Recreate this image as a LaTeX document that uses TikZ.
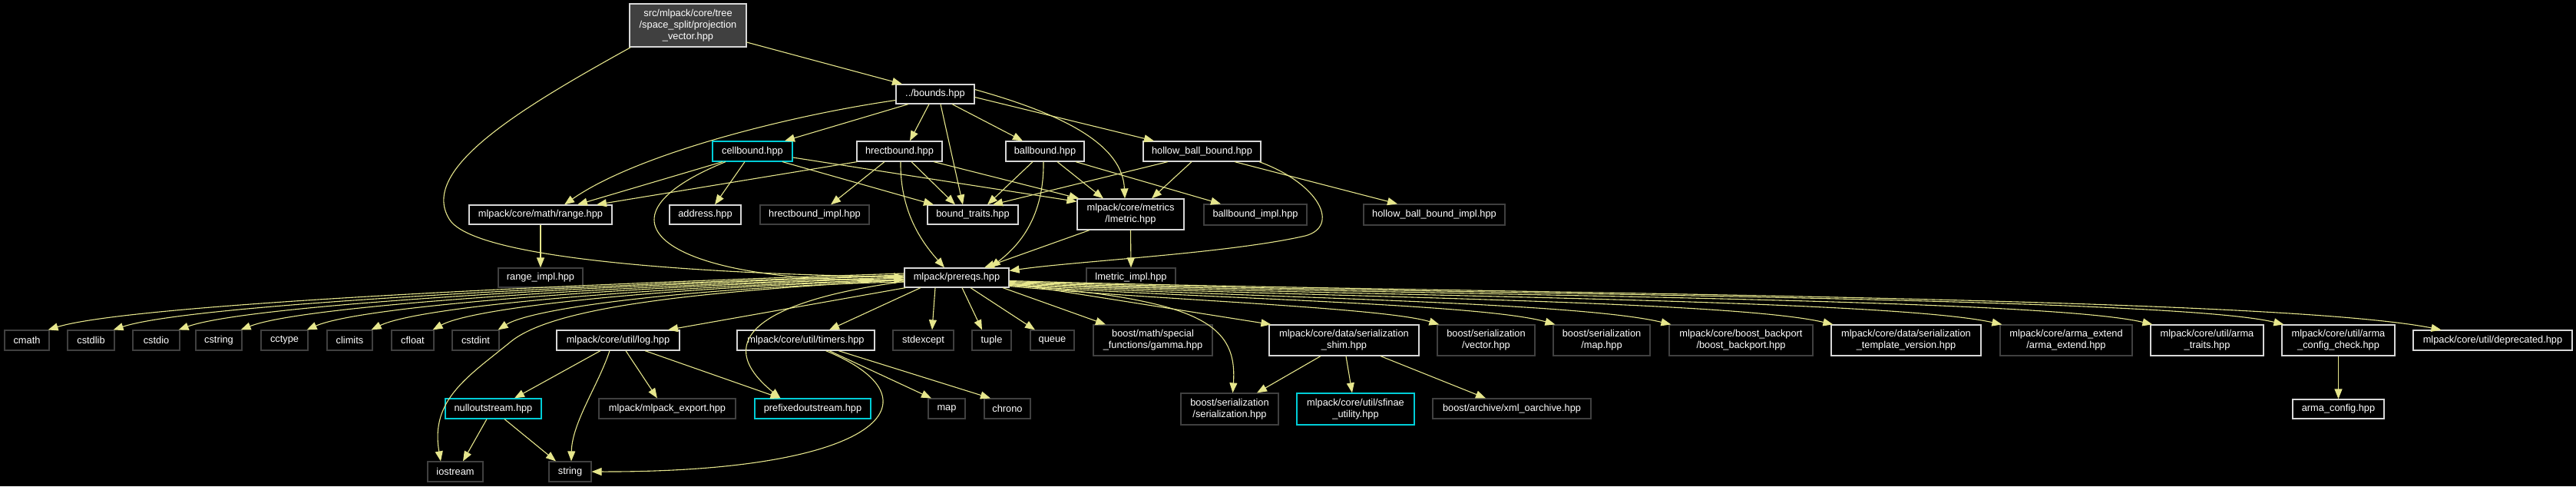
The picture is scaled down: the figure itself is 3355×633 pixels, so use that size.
\documentclass[tikz,border=0pt]{standalone}
\usepackage{fontspec}
\setmainfont{Liberation Sans}
\usetikzlibrary{arrows.meta}
\definecolor{edgecol}{RGB}{230,230,140}
\definecolor{lgray}{RGB}{215,215,215}
\definecolor{dgray}{RGB}{64,64,64}
\definecolor{cyanb}{RGB}{0,205,215}
\definecolor{rootgray}{RGB}{64,64,64}
\newcommand\dxfont{\fontsize{12.8}{15}\selectfont}
\tikzset{
  nd/.style={rectangle, fill=black, text=white, line width=1.2pt, inner sep=0pt, font=\dxfont, align=center, minimum height=26pt},
  doc/.style={nd, draw=lgray},
  ext/.style={nd, draw=dgray},
  cyn/.style={nd, draw=cyanb},
  two/.style={minimum height=40pt},
  rootnode/.style={nd, fill=rootgray, draw=lgray, minimum height=56pt},
  edge/.style={draw=edgecol, line width=1.1pt, -{Triangle[length=13pt,width=10pt]}}
}
\begin{document}
\begin{tikzpicture}[x=1pt,y=-1pt]
\fill[black] (0,0) rectangle (3355,633);
\useasboundingbox (0,0) rectangle (3355,633);

% row 0-1
\node[rootnode, minimum width=152pt] (root) at (896,33) {src/mlpack/core/tree\\/space\_split/projection\\\_vector.hpp};
\node[doc, minimum width=102pt, minimum height=25pt] (bounds) at (1218,122.5) {../bounds.hpp};
% row 2
\node[cyn, minimum width=104pt] (cellbound) at (980,197) {cellbound.hpp};
\node[doc, minimum width=111pt] (hrect) at (1171.5,197) {hrectbound.hpp};
\node[doc, minimum width=102pt] (ball) at (1361,197) {ballbound.hpp};
\node[doc, minimum width=153pt] (hollow) at (1565.5,197) {hollow\_ball\_bound.hpp};
% row 3
\node[doc, minimum width=186pt, minimum height=25pt] (range) at (704,279.5) {mlpack/core/math/range.hpp};
\node[doc, minimum width=93pt, minimum height=25pt] (address) at (918.5,279.5) {address.hpp};
\node[ext, minimum width=142pt, minimum height=25pt] (hrectimpl) at (1061,279.5) {hrectbound\_impl.hpp};
\node[doc, minimum width=118pt, minimum height=25pt] (btraits) at (1267,279.5) {bound\_traits.hpp};
\node[doc, two, minimum width=139pt] (lmetric) at (1472.5,279) {mlpack/core/metrics\\/lmetric.hpp};
\node[ext, minimum width=134pt, minimum height=27pt] (ballimpl) at (1635,279.5) {ballbound\_impl.hpp};
\node[ext, minimum width=184pt, minimum height=27pt] (hollowimpl) at (1868,279.5) {hollow\_ball\_bound\_impl.hpp};
% row 3b
\node[ext, minimum width=110pt, minimum height=25pt] (rangeimpl) at (704,361.5) {range\_impl.hpp};
\node[doc, minimum width=136pt, minimum height=25pt] (prereqs) at (1246,361.5) {mlpack/prereqs.hpp};
\node[ext, minimum width=116pt, minimum height=25pt] (lmetricimpl) at (1473,361.5) {lmetric\_impl.hpp};
% row 4
\node[ext, minimum width=58pt] (cmath) at (35,443) {cmath};
\node[ext, minimum width=61pt] (cstdlib) at (118.5,443) {cstdlib};
\node[ext, minimum width=61pt] (cstdio) at (203.5,443) {cstdio};
\node[ext, minimum width=60pt] (cstring) at (285,443) {cstring};
\node[ext, minimum width=61pt] (cctype) at (370.5,443) {cctype};
\node[ext, minimum width=59pt] (climits) at (455.5,443) {climits};
\node[ext, minimum width=55pt] (cfloat) at (537.5,443) {cfloat};
\node[ext, minimum width=61pt] (cstdint) at (619.5,443) {cstdint};
\node[doc, minimum width=160pt] (log) at (805,443) {mlpack/core/util/log.hpp};
\node[doc, minimum width=179pt] (timers) at (1049.5,443) {mlpack/core/util/timers.hpp};
\node[ext, minimum width=79pt] (stdexcept) at (1202.5,443) {stdexcept};
\node[ext, minimum width=51pt] (tuple) at (1291.5,443) {tuple};
\node[ext, minimum width=57pt] (queue) at (1370.5,443) {queue};
\node[ext, two, minimum width=155pt] (gamma) at (1501.5,443) {boost/math/special\\\_functions/gamma.hpp};
\node[doc, two, minimum width=195pt] (shim) at (1750.5,443) {mlpack/core/data/serialization\\\_shim.hpp};
\node[ext, two, minimum width=127pt] (bvector) at (1935.5,443) {boost/serialization\\/vector.hpp};
\node[ext, two, minimum width=126pt] (bmap) at (2086,443) {boost/serialization\\/map.hpp};
\node[ext, two, minimum width=187pt] (backport) at (2267.5,443) {mlpack/core/boost\_backport\\/boost\_backport.hpp};
\node[doc, two, minimum width=195pt] (tversion) at (2482.5,443) {mlpack/core/data/serialization\\\_template\_version.hpp};
\node[ext, two, minimum width=172pt] (armaext) at (2691,443) {mlpack/core/arma\_extend\\/arma\_extend.hpp};
\node[doc, two, minimum width=147pt] (armatraits) at (2874.5,443) {mlpack/core/util/arma\\\_traits.hpp};
\node[doc, two, minimum width=147pt] (armacheck) at (3045.5,443) {mlpack/core/util/arma\\\_config\_check.hpp};
\node[doc, minimum width=207pt] (deprecated) at (3246.5,443) {mlpack/core/util/deprecated.hpp};
% row 5
\node[cyn, minimum width=125pt] (nullout) at (642.5,532) {nulloutstream.hpp};
\node[ext, minimum width=178pt] (export) at (869,532) {mlpack/mlpack\_export.hpp};
\node[cyn, minimum width=151pt] (prefixed) at (1058.5,532) {prefixedoutstream.hpp};
\node[ext, minimum width=48pt] (map) at (1233,532) {map};
\node[ext, minimum width=60pt] (chrono) at (1312,532) {chrono};
\node[ext, two, minimum width=127pt, minimum height=41pt] (serial) at (1601.5,532.5) {boost/serialization\\/serialization.hpp};
\node[cyn, two, minimum width=153pt, minimum height=41pt] (sfinae) at (1765.5,532.5) {mlpack/core/util/sfinae\\\_utility.hpp};
\node[ext, minimum width=206pt] (xml) at (1969,532) {boost/archive/xml\_oarchive.hpp};
\node[doc, minimum width=119pt, minimum height=25pt] (armaconfig) at (3045.5,532.5) {arma\_config.hpp};
% row 6
\node[ext, minimum width=72pt] (iostream) at (593,614) {iostream};
\node[ext, minimum width=55pt] (string) at (742.5,614) {string};

% ---- edges ----
% root
\draw[edge] ([yshift=-22pt]root.east) -- ([xshift=-43pt]bounds.north);
\draw[edge] ([xshift=2pt]root.south west) .. controls (680,140) and (545,220) .. (585,285) .. controls (620,345) and (1000,358) .. ([yshift=1pt]prereqs.west);
% bounds
\draw[edge] ([yshift=-8pt]bounds.west) .. controls (1030,150) and (830,200) .. ([xshift=31pt]range.north);
\draw[edge] ([xshift=-35pt]bounds.south) -- ([xshift=42pt]cellbound.north);
\draw[edge] ([xshift=-8pt]bounds.south) -- ([xshift=13.5pt]hrect.north);
\draw[edge] ([xshift=7pt]bounds.south) -- ([xshift=-13pt]btraits.north);
\draw[edge] ([xshift=22pt]bounds.south) -- ([xshift=-29pt]ball.north);
\draw[edge] ([yshift=6pt]bounds.east) .. controls (1390,150) and (1462,190) .. ([xshift=-7.5pt]lmetric.north);
\draw[edge] ([yshift=-4pt]bounds.east) -- ([xshift=-62.5pt]hollow.north);
% cellbound
\draw[edge] ([xshift=-39pt]cellbound.south) -- ([xshift=48pt]range.north);
\draw[edge] ([xshift=-10pt]cellbound.south) -- ([xshift=12.5pt]address.north);
\draw[edge] ([xshift=-35pt]cellbound.south) .. controls (750,290) and (880,370) .. ([yshift=-2.5pt]prereqs.west);
\draw[edge] ([xshift=39pt]cellbound.south) -- ([xshift=-51pt]btraits.north);
\draw[edge] ([yshift=-8pt]cellbound.east) -- ([yshift=-4pt]lmetric.north west);
% hrectbound
\draw[edge] ([xshift=1pt]hrect.south west) -- ([xshift=73pt]range.north);
\draw[edge] ([xshift=-19.5pt]hrect.south) -- ([xshift=21pt]hrectimpl.north);
\draw[edge] ([xshift=1.5pt]hrect.south) .. controls (1172,280) and (1205,320) .. ([xshift=-16pt]prereqs.north);
\draw[edge] ([xshift=15.5pt]hrect.south) -- ([xshift=-23pt]btraits.north);
\draw[edge] ([xshift=44.5pt]hrect.south) -- ([xshift=3pt]lmetric.north west);
% ballbound
\draw[edge] ([xshift=-16pt]ball.south) -- ([xshift=19pt]btraits.north);
\draw[edge] ([xshift=-2pt]ball.south) .. controls (1360,290) and (1320,325) .. ([xshift=44pt]prereqs.north);
\draw[edge] ([xshift=16pt]ball.south) -- ([xshift=-35.5pt]lmetric.north);
\draw[edge] ([xshift=40pt]ball.south) -- ([xshift=-45pt]ballimpl.north);
% hollow
\draw[edge] ([xshift=-44.5pt]hollow.south) -- ([xshift=26pt]btraits.north);
\draw[edge] ([xshift=-13.5pt]hollow.south) -- ([xshift=27.5pt]lmetric.north);
\draw[edge] ([xshift=42.5pt]hollow.south) -- ([xshift=-48pt]hollowimpl.north);
\draw[edge] ([xshift=74.5pt]hollow.south) .. controls (1720,240) and (1745,295) .. (1700,307) .. controls (1600,330) and (1400,340) .. ([yshift=9pt]prereqs.east);
% lmetric, range
\draw[edge] ([xshift=-53.5pt]lmetric.south) -- ([xshift=36pt]prereqs.north);
\draw[edge] (lmetric.south) -- (lmetricimpl.north);
\draw[edge] (range.south) -- (rangeimpl.north);
% prereqs -> c headers
\draw[edge] ([yshift=5.5pt]prereqs.west) .. controls (677,372) and (164,398) .. ([xshift=-2pt]cmath.north east);
\draw[edge] ([yshift=3.5pt]prereqs.west) .. controls (715,372) and (242,398) .. ([xshift=-2pt]cstdlib.north east);
\draw[edge] ([yshift=2.5pt]prereqs.west) .. controls (753,372) and (319,398) .. ([xshift=-2pt]cstdio.north east);
\draw[edge] ([yshift=0.5pt]prereqs.west) .. controls (790,372) and (393,398) .. ([xshift=-2pt]cstring.north east);
\draw[edge] ([yshift=-0.5pt]prereqs.west) .. controls (828,372) and (471,398) .. ([xshift=-2pt]cctype.north east);
\draw[edge] ([yshift=-2.5pt]prereqs.west) .. controls (866,372) and (547,398) .. ([xshift=-2pt]climits.north east);
\draw[edge] ([yshift=-3.5pt]prereqs.west) .. controls (902,372) and (620,398) .. ([xshift=-2pt]cfloat.north east);
\draw[edge] ([yshift=-5.5pt]prereqs.west) .. controls (940,372) and (698,398) .. ([xshift=-2pt]cstdint.north east);
% prereqs -> middle
\draw[edge] ([xshift=2pt]prereqs.south west) -- ([xshift=65pt]log.north);
\draw[edge] ([xshift=-47pt]prereqs.south) -- ([xshift=30.5pt]timers.north);
\draw[edge] ([xshift=-28pt]prereqs.south) -- ([xshift=11.5pt]stdexcept.north);
\draw[edge] ([xshift=7pt]prereqs.south) -- ([xshift=-12.5pt]tuple.north);
\draw[edge] ([xshift=18pt]prereqs.south) -- ([xshift=-22.5pt]queue.north);
\draw[edge] ([xshift=60pt]prereqs.south) -- ([xshift=-61.5pt]gamma.north);
\draw[edge] ([yshift=-7pt]prereqs.east) -- ([xshift=3pt]shim.north west);
\draw[edge] ([yshift=-9pt]prereqs.east) .. controls (1560,390) and (1612,420) .. ([xshift=4pt]serial.north);
\draw[edge] ([yshift=-5pt]prereqs.west) .. controls (1000,390) and (920,440) .. ([xshift=-42pt]prefixed.north);
\draw[edge] ([yshift=-3pt]prereqs.west) .. controls (900,380) and (720,400) .. (665,445) .. controls (610,490) and (560,520) .. ([xshift=-19pt]iostream.north);
% prereqs -> right bundle
\draw[edge] ([yshift=-11pt]prereqs.east) .. controls (1500,390) and (1800,400) .. ([xshift=3pt]bvector.north west);
\draw[edge] ([yshift=-10pt]prereqs.east) .. controls (1550,388) and (1930,395) .. ([xshift=3pt]bmap.north west);
\draw[edge] ([yshift=-9pt]prereqs.east) .. controls (1600,387) and (2050,392) .. ([xshift=3pt]backport.north west);
\draw[edge] ([yshift=-8pt]prereqs.east) .. controls (1650,386) and (2250,390) .. ([xshift=3pt]tversion.north west);
\draw[edge] ([yshift=-7pt]prereqs.east) .. controls (1700,385) and (2450,388) .. ([xshift=3pt]armaext.north west);
\draw[edge] ([yshift=-6pt]prereqs.east) .. controls (1750,384) and (2650,386) .. ([xshift=3pt]armatraits.north west);
\draw[edge] ([yshift=-5pt]prereqs.east) .. controls (1800,383) and (2820,385) .. ([xshift=3pt]armacheck.north west);
\draw[edge] ([yshift=-4pt]prereqs.east) .. controls (1850,382) and (2950,384) .. ([xshift=37pt]deprecated.north west);
% log
\draw[edge] ([xshift=-23pt]log.south) -- ([xshift=27.5pt]nullout.north);
\draw[edge] ([xshift=-11pt]log.south) .. controls (780,500) and (745,550) .. ([xshift=1.5pt]string.north);
\draw[edge] ([xshift=10pt]log.south) -- ([xshift=-13pt]export.north);
\draw[edge] ([xshift=35pt]log.south) -- ([xshift=-42pt]prefixed.north);
% timers
\draw[edge] ([xshift=26pt]timers.south) .. controls (1230,520) and (1150,615) .. (string.east);
\draw[edge] ([xshift=30.5pt]timers.south) -- ([xshift=-20pt]map.north);
\draw[edge] ([xshift=42.5pt]timers.south) -- ([xshift=-22pt]chrono.north);
% nulloutstream
\draw[edge] ([xshift=-8.5pt]nullout.south) -- ([xshift=10pt]iostream.north);
\draw[edge] ([xshift=14.5pt]nullout.south) -- ([xshift=-18.5pt]string.north);
% shim
\draw[edge] ([xshift=-30.5pt]shim.south) -- ([xshift=35.5pt]serial.north);
\draw[edge] ([xshift=2.5pt]shim.south) -- ([xshift=-4.5pt]sfinae.north);
\draw[edge] ([xshift=47.5pt]shim.south) -- ([xshift=-34pt]xml.north);
% arma config
\draw[edge] (armacheck.south) -- (armaconfig.north);
\end{tikzpicture}
\end{document}
